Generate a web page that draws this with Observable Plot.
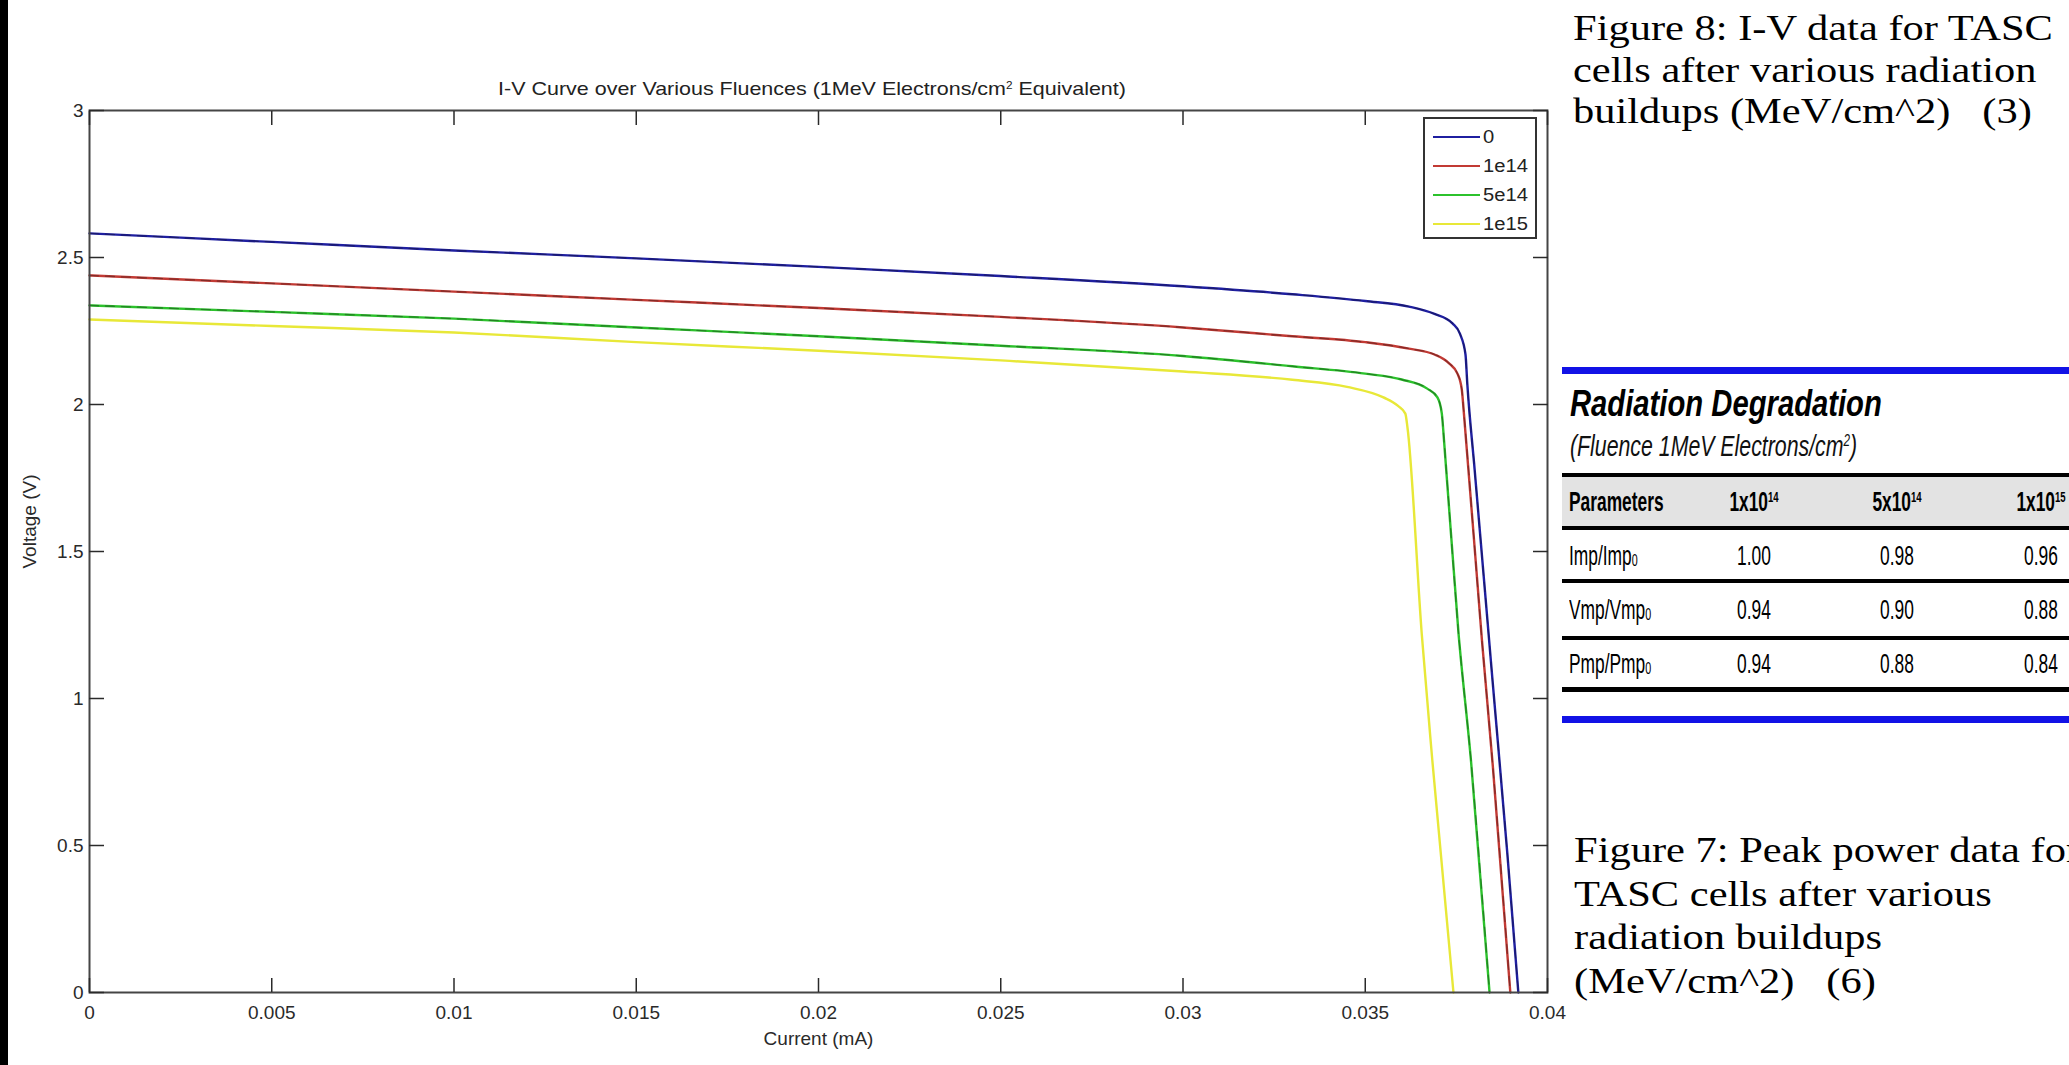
<!DOCTYPE html>
<html>
<head>
<meta charset="utf-8">
<script src="https://cdn.jsdelivr.net/npm/d3@7"></script>
<script src="https://cdn.jsdelivr.net/npm/@observablehq/plot@0.6"></script>
<style>
  html, body { margin:0; padding:0; background:#fff; }
  body { width:2069px; height:1065px; overflow:hidden; position:relative; font-family:"Liberation Sans", Arial, sans-serif; }
  .abs { position:absolute; white-space:pre; }
  sup { font-size:0.55em; vertical-align:0.6em; line-height:0; }
  sub { font-size:0.62em; vertical-align:-0.05em; line-height:0; }
</style>
</head>
<body>
<div id="chart" class="abs" style="left:0;top:0"></div>
<div class="abs" style="left:0;top:0;width:8px;height:1065px;background:#000"></div>
<script>
// ---------------- data ----------------
const seriesNames = ["0", "1e14", "5e14", "1e15"];
const seriesColors = ["#1f1fa0", "#c23a34", "#2cc22c", "#e8e838"];

const current_0 = [0, 0.005, 0.01, 0.015, 0.02, 0.025, 0.03, 0.033, 0.035, 0.0362, 0.0369, 0.0374, 0.0376, 0.03775, 0.0378, 0.038, 0.0385, 0.0389, 0.0392];
const voltage_0 = [2.582, 2.553, 2.524, 2.497, 2.468, 2.437, 2.402, 2.375, 2.352, 2.333, 2.308, 2.275, 2.24, 2.17, 2.07, 1.78, 1.05, 0.47, 0];

const current_1e14 = [0, 0.005, 0.01, 0.015, 0.02, 0.025, 0.03, 0.033, 0.035, 0.0362, 0.0369, 0.0373, 0.03753, 0.03765, 0.0377, 0.0382, 0.0385, 0.03898];
const voltage_1e14 = [2.439, 2.412, 2.384, 2.356, 2.328, 2.298, 2.262, 2.232, 2.212, 2.19, 2.17, 2.14, 2.105, 2.05, 1.98, 1.2, 0.77, 0];

const current_5e14 = [0, 0.005, 0.01, 0.015, 0.02, 0.025, 0.03, 0.033, 0.035, 0.036, 0.0367, 0.03698, 0.0371, 0.03716, 0.03756, 0.0379, 0.03841];
const voltage_5e14 = [2.337, 2.315, 2.292, 2.262, 2.232, 2.2, 2.165, 2.13, 2.105, 2.085, 2.054, 2.024, 1.97, 1.88, 1.22, 0.79, 0];

const current_1e15 = [0, 0.005, 0.01, 0.015, 0.02, 0.025, 0.03, 0.033, 0.0345, 0.0355, 0.0359, 0.0361, 0.03616, 0.03655, 0.03684, 0.03742];
const voltage_1e15 = [2.289, 2.267, 2.245, 2.212, 2.183, 2.15, 2.112, 2.084, 2.06, 2.024, 1.995, 1.969, 1.92, 1.22, 0.79, 0];

const xTicks = [0, 0.005, 0.01, 0.015, 0.02, 0.025, 0.03, 0.035, 0.04];
const xTickLabels = ["0", "0.005", "0.01", "0.015", "0.02", "0.025", "0.03", "0.035", "0.04"];
const yTicks = [0, 0.5, 1, 1.5, 2, 2.5, 3];
const yTickLabels = ["0", "0.5", "1", "1.5", "2", "2.5", "3"];

const chartTitle = "I-V Curve over Various Fluences (1MeV Electrons/cm<sup>2</sup> Equivalent)";
const xLabel = "Current (mA)";
const yLabel = "Voltage (V)";

const caption1 = ["Figure 8: I-V data for TASC", "cells after various radiation", "buildups (MeV/cm^2)   (3)"];
const caption2 = ["Figure 7: Peak power data for", "TASC cells after various", "radiation buildups", "(MeV/cm^2)   (6)"];

const tableTitle = "Radiation Degradation";
const tableSubtitle = "(Fluence 1MeV Electrons/cm<sup>2</sup>)";
const tableFirstHeader = "Parameters";
const tableHeaderBase = ["1x10", "5x10", "1x10"];
const tableHeaderExp = ["14", "14", "15"];
const tableParams = ["Imp/Imp", "Vmp/Vmp", "Pmp/Pmp"];
const table_1e14 = ["1.00", "0.94", "0.94"];
const table_5e14 = ["0.98", "0.90", "0.88"];
const table_1e15 = ["0.96", "0.88", "0.84"];

// ---------------- chart ----------------
const currents = [current_0, current_1e14, current_5e14, current_1e15];
const voltages = [voltage_0, voltage_1e14, voltage_5e14, voltage_1e15];
const rows = seriesNames.flatMap((s, k) => currents[k].map((c, i) => ({series: s, current: c, voltage: voltages[k][i]})));

const chart = Plot.plot({
  width: 1560, height: 1065,
  marginLeft: 89, marginRight: 13, marginTop: 110, marginBottom: 73,
  style: {background: "transparent", fontFamily: "'Liberation Sans', Arial, sans-serif", fontSize: "19px", color: "#2a2a2a", overflow: "visible"},
  x: {domain: [0, 0.04]},
  y: {domain: [0, 3]},
  color: {domain: seriesNames, range: seriesColors},
  marks: [
    Plot.line(rows, {x: "current", y: "voltage", stroke: "series", strokeWidth: 2.4, curve: "monotone-x"}),
    Plot.line(rows.filter(d => d.series !== "1e15"), {x: "current", y: "voltage", z: "series", stroke: "#111", strokeOpacity: 0.35, strokeWidth: 1.3, strokeDasharray: "9,7", curve: "monotone-x"}),
    Plot.frame({stroke: "#454545", strokeWidth: 2}),
    Plot.axisX({anchor: "bottom", ticks: xTicks, tickFormat: d => xTickLabels[xTicks.indexOf(d)], tickSize: -14, tickPadding: 27, label: xLabel, labelAnchor: "center", labelArrow: "none", labelOffset: 52, strokeWidth: 1.5}),
    Plot.axisX({anchor: "top", ticks: xTicks, tickFormat: () => "", tickSize: -14, label: null, strokeWidth: 1.5}),
    Plot.axisY({anchor: "left", ticks: yTicks, tickFormat: d => yTickLabels[yTicks.indexOf(d)], tickSize: -15, tickPadding: 21, label: null, strokeWidth: 1.5}),
    Plot.axisY({anchor: "right", ticks: yTicks, tickFormat: () => "", tickSize: -15, label: null, strokeWidth: 1.5}),
    Plot.text([yLabel], {text: d => d, frameAnchor: "left", rotate: -90, lineAnchor: "top", textAnchor: "middle", dx: -67, dy: -30, fill: "#2a2a2a"})
  ]
});
document.getElementById("chart").appendChild(chart);

// ---------------- text helpers ----------------
const SANS = "'Liberation Sans', Arial, sans-serif";
const SERIF = "'Liberation Serif', 'Times New Roman', serif";
function place(html, o) {
  const size = o.size, sx = o.sx ?? 1, align = o.align ?? "left";
  const d = document.createElement("div");
  d.className = "abs";
  d.innerHTML = html;
  d.style.left = o.left + "px";
  d.style.top = (o.baseline - 0.846 * size) + "px";
  d.style.fontSize = size + "px";
  d.style.lineHeight = size + "px";
  d.style.fontFamily = o.family ?? SANS;
  d.style.fontWeight = o.weight ?? "normal";
  d.style.fontStyle = o.style ?? "normal";
  d.style.color = o.color ?? "#111";
  d.style.transformOrigin = align === "center" ? "center center" : "left center";
  d.style.transform = (align === "center" ? "translateX(-50%) " : "") + `scaleX(${sx})`;
  document.body.appendChild(d);
  return d;
}
function box(left, top, width, height, color) {
  const d = document.createElement("div");
  d.className = "abs";
  d.style.cssText = `left:${left}px;top:${top}px;width:${width}px;height:${height}px;background:${color};`;
  document.body.appendChild(d);
}
function caption(lines, left, firstBaseline, size, lh, sx) {
  const d = document.createElement("div");
  d.className = "abs";
  d.innerHTML = lines.join("\n");
  d.style.left = left + "px";
  d.style.top = (firstBaseline - ((lh - 1.107 * size) / 2 + 0.891 * size)) + "px";
  d.style.fontSize = size + "px";
  d.style.lineHeight = lh + "px";
  d.style.fontFamily = SERIF;
  d.style.color = "#000";
  d.style.transformOrigin = "left top";
  d.style.transform = `scaleX(${sx})`;
  document.body.appendChild(d);
}

// chart title
place(chartTitle, {left: 812, baseline: 95, size: 19, sx: 1.13, align: "center", color: "#222"});

// legend
const legend = document.createElement("div");
legend.className = "abs";
legend.style.cssText = "left:1423px;top:117px;width:114px;height:122px;box-sizing:border-box;border:2px solid #333;background:#fff;";
document.body.appendChild(legend);
seriesNames.forEach((s, i) => {
  const cy = 18 + 29 * i;
  const line = document.createElement("div");
  line.className = "abs";
  line.style.cssText = `left:8px;top:${cy - 1}px;width:47px;height:2.4px;background:${seriesColors[i]};`;
  legend.appendChild(line);
  const t = document.createElement("div");
  t.className = "abs";
  t.textContent = s;
  t.style.cssText = `left:58px;top:${cy - 11}px;font-size:18px;line-height:22px;color:#222;transform-origin:left center;transform:scaleX(1.12);`;
  legend.appendChild(t);
});

// captions
caption(caption1, 1573, 41, 36, 41.5, 1.18);
caption(caption2, 1574, 863, 36, 43.5, 1.18);

// table
box(1562, 367, 507, 7, "#1212e6");
place(tableTitle, {left: 1570, baseline: 416, size: 37, weight: "bold", style: "italic", sx: 0.79, color: "#000"});
place(tableSubtitle, {left: 1570, baseline: 456, size: 30, style: "italic", sx: 0.71, color: "#111"});
box(1562, 473, 507, 4, "#000");
box(1562, 477, 507, 49, "#e3e3e3");
box(1562, 526, 507, 4, "#000");
box(1562, 579, 507, 4, "#000");
box(1562, 636, 507, 4, "#000");
box(1562, 687, 507, 5, "#000");
box(1562, 716, 507, 7, "#1212e6");

const colCenters = [1754, 1897, 2041];
const rowBaselines = [566, 620, 674];
const tableCols = [table_1e14, table_5e14, table_1e15];
place(tableFirstHeader, {left: 1569, baseline: 512, size: 28, weight: "bold", sx: 0.62, color: "#000"});
tableHeaderBase.forEach((b, j) => place(`${b}<sup>${tableHeaderExp[j]}</sup>`, {left: colCenters[j], baseline: 512, size: 28, weight: "bold", sx: 0.62, align: "center", color: "#000"}));
tableParams.forEach((p, i) => {
  place(`${p}<sub>0</sub>`, {left: 1569, baseline: rowBaselines[i], size: 28, sx: 0.62, color: "#000"});
  tableCols.forEach((col, j) => place(col[i], {left: colCenters[j], baseline: rowBaselines[i], size: 28, sx: 0.62, align: "center", color: "#000"}));
});
</script>
</body>
</html>
